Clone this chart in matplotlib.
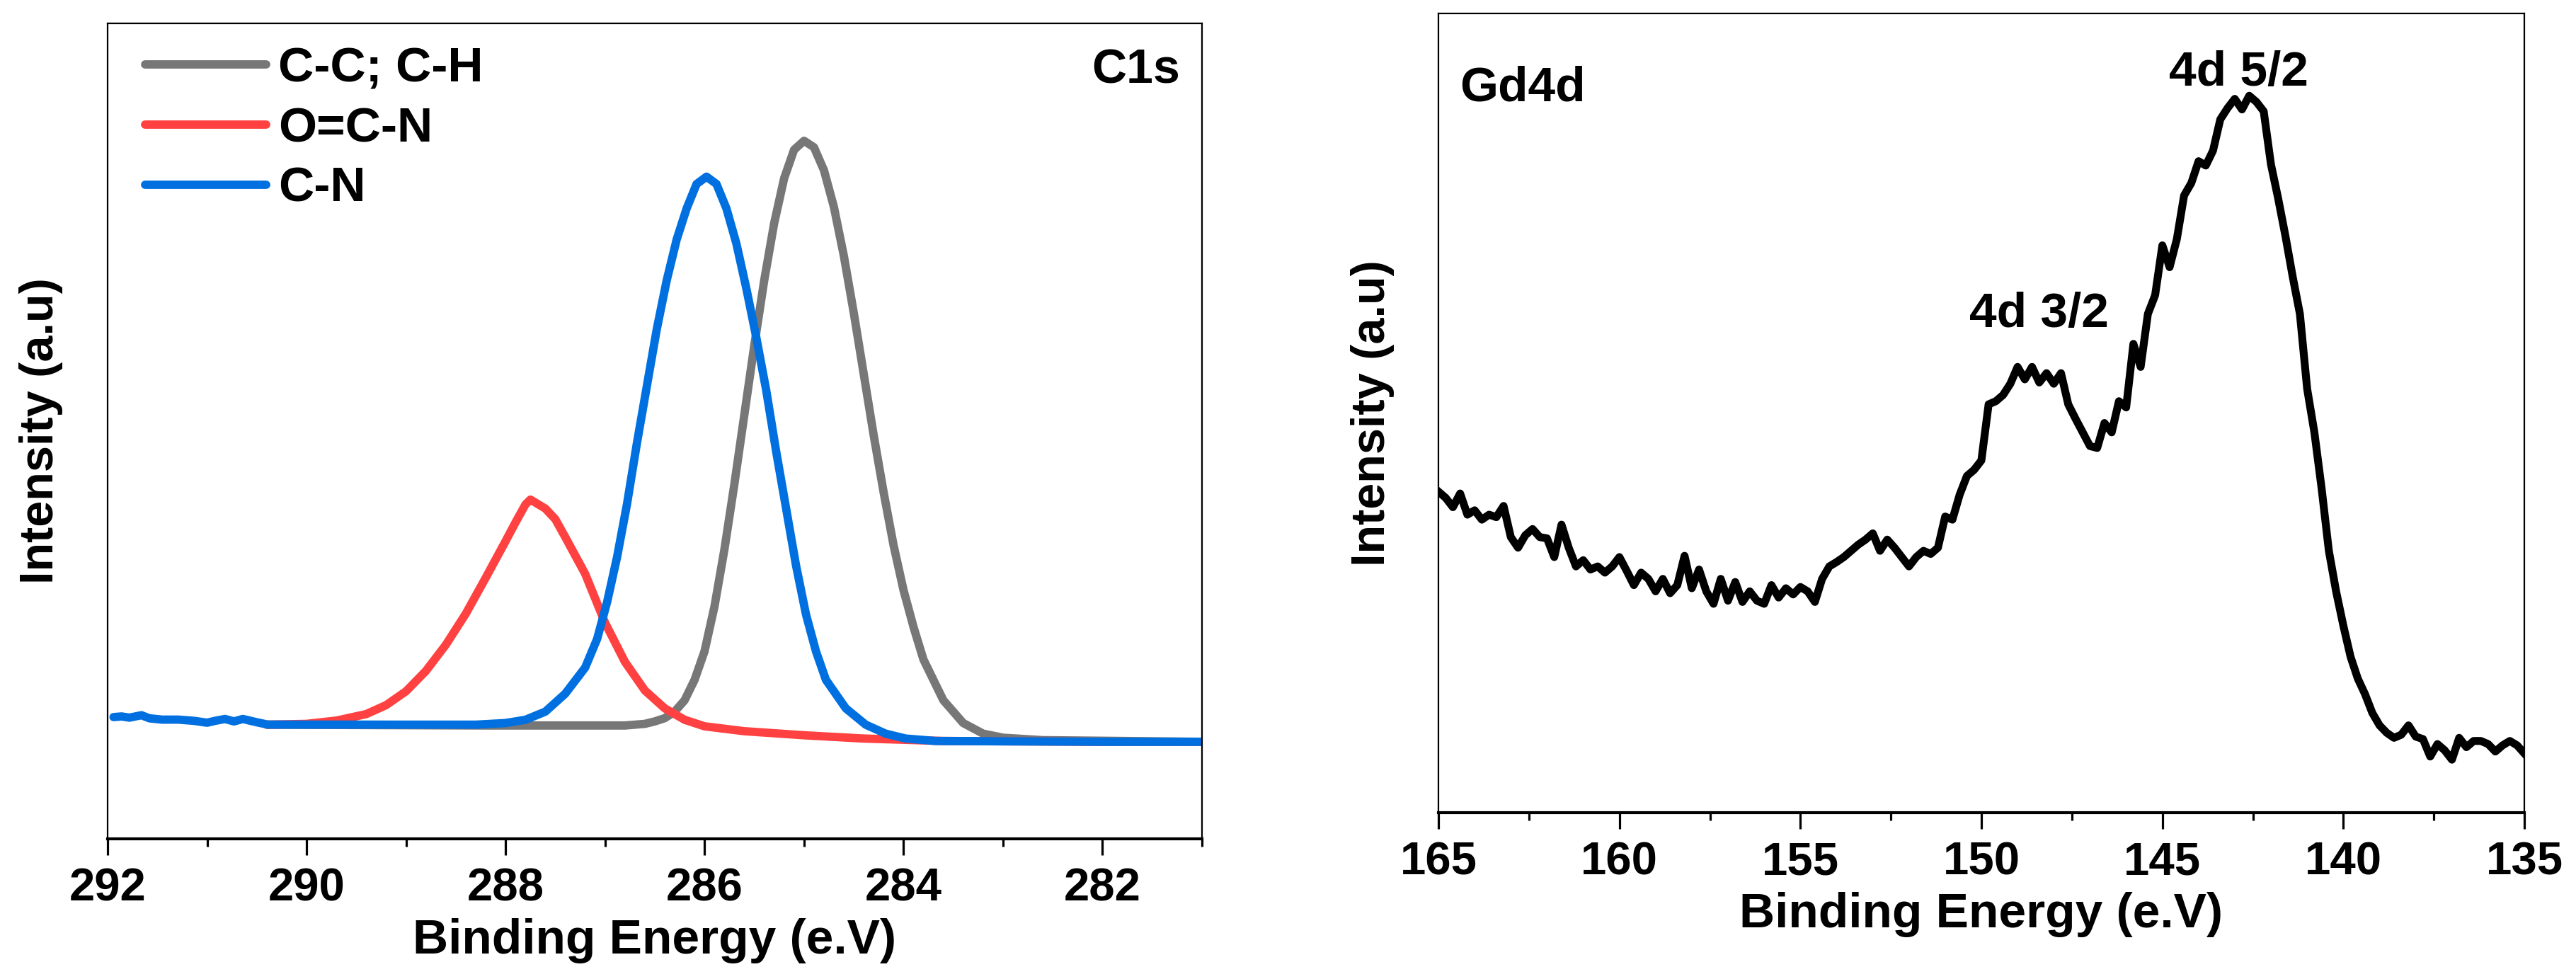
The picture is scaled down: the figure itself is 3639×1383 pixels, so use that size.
import matplotlib
matplotlib.use("Agg")
import matplotlib.pyplot as plt
from matplotlib.ticker import MultipleLocator

plt.rcParams['font.family'] = ['Liberation Sans', 'DejaVu Sans']
plt.rcParams['font.weight'] = 'bold'

# ---- C1s panel (binding energy in eV, intensity in a.u.) ----
cc_ev = [290.4, 288.2, 287.4, 287.2, 286.8, 286.6, 286.5, 286.4, 286.3, 286.2,
         286.1, 286.0, 285.9, 285.8, 285.7, 285.6, 285.5, 285.4, 285.3, 285.2,
         285.1, 285.0, 284.9, 284.8, 284.7, 284.6, 284.5, 284.4, 284.3, 284.2,
         284.1, 284.0, 283.9, 283.8, 283.6, 283.4, 283.2, 283.0, 282.6, 281.0]
cc_int = [14.0, 13.9, 13.9, 13.9, 13.9, 14.1, 14.4, 14.8, 15.6, 17.0,
          19.5, 23.0, 28.5, 35.5, 43.5, 52.0, 60.5, 68.5, 75.5, 81.0,
          84.5, 85.6, 84.8, 82.0, 77.5, 71.5, 64.5, 57.0, 49.5, 42.5,
          36.0, 30.5, 26.0, 22.0, 17.0, 14.2, 12.9, 12.4, 12.1, 11.9]

ocn_ev = [290.4, 290.0, 289.7, 289.4, 289.2, 289.0, 288.8, 288.6, 288.4, 288.2,
          288.0, 287.9, 287.8, 287.75, 287.6, 287.5, 287.4, 287.2, 287.0, 286.8,
          286.6, 286.4, 286.2, 286.0, 285.6, 285.0, 284.4, 283.6, 282.0, 281.0]
ocn_int = [14.0, 14.1, 14.5, 15.3, 16.4, 18.1, 20.6, 23.8, 27.6, 32.0,
           36.5, 38.8, 41.0, 41.6, 40.5, 39.2, 37.0, 32.5, 26.5, 21.7,
           18.2, 16.0, 14.6, 13.8, 13.2, 12.7, 12.3, 12.0, 11.9, 11.9]

cn_ev = [291.94, 291.86, 291.78, 291.66, 291.58, 291.45, 291.29, 291.13, 291.00, 290.92,
         290.82, 290.73, 290.64, 290.51, 290.39, 289.0, 288.3, 288.0, 287.8, 287.6,
         287.4, 287.2, 287.08, 286.98, 286.88, 286.78, 286.68, 286.58, 286.48, 286.38,
         286.28, 286.18, 286.08, 285.98, 285.88, 285.78, 285.68, 285.58, 285.48, 285.38,
         285.28, 285.18, 285.08, 284.98, 284.88, 284.78, 284.58, 284.38, 284.18, 283.98,
         283.68, 282.0, 281.0]
cn_int = [14.93, 15.01, 14.86, 15.16, 14.78, 14.62, 14.62, 14.47, 14.24, 14.47,
          14.70, 14.40, 14.70, 14.32, 14.01, 14.0, 14.0, 14.2, 14.6, 15.6,
          17.8, 21.0, 24.5, 29.0, 34.5, 41.0, 48.5, 55.5, 62.5, 68.5,
          73.5, 77.3, 80.3, 81.2, 80.3, 77.3, 73.0, 67.5, 61.5, 55.0,
          47.5, 40.5, 33.5, 27.5, 23.0, 19.5, 16.0, 14.0, 12.9, 12.3,
          12.0, 11.9, 11.9]

c1s_labels = ['C-C; C-H', 'O=C-N', 'C-N']
c1s_colors = ['#777777', '#FF4141', '#0070E0']

# ---- Gd4d panel ----
gd_ev = [165.0 - 0.2 * i for i in range(151)]
gd_int = [51.5, 50.5, 49.0, 51.2, 47.8, 48.5, 47.0, 47.8, 47.4, 49.2,
          44.2, 42.5, 44.5, 45.5, 44.2, 44.0, 41.0, 46.2, 42.5, 39.5,
          40.5, 39.0, 39.5, 38.5, 39.5, 41.0, 38.8, 36.5, 38.5, 37.5,
          35.5, 37.5, 35.2, 36.5, 41.2, 36.0, 39.0, 35.5, 33.5, 37.5,
          34.0, 37.0, 33.8, 35.5, 34.0, 33.5, 36.5, 34.5, 36.0, 35.0,
          36.2, 35.5, 33.8, 37.5, 39.5, 40.2, 41.0, 42.0, 43.0, 43.8,
          44.8, 42.0, 43.8, 42.5, 41.0, 39.5, 41.0, 42.0, 41.5, 42.5,
          47.5, 47.0, 51.0, 54.0, 55.0, 56.5, 65.5, 66.0, 67.0, 68.8,
          71.5, 69.5, 71.5, 69.0, 70.5, 68.8, 70.5, 65.5, 63.2, 61.0,
          58.8, 58.5, 62.5, 61.0, 66.0, 65.0, 75.2, 71.5, 80.0, 83.0,
          91.0, 87.5, 92.0, 99.0, 101.0, 104.5, 103.8, 106.2, 111.2, 113.0,
          114.5, 112.8, 115.0, 114.0, 112.5, 104.0, 98.5, 92.5, 86.0, 80.0,
          68.0, 61.0, 52.0, 42.0, 35.5, 30.0, 25.0, 21.5, 19.0, 16.0,
          14.0, 12.8, 12.0, 12.5, 14.0, 12.2, 11.8, 9.0, 11.0, 10.0,
          8.5, 12.0, 10.5, 11.5, 11.5, 11.0, 9.8, 10.8, 11.5, 10.8,
          9.5]

peak_labels = ['4d 3/2', '4d 5/2']
peak_ev = [148.4, 142.9]
peak_int = [77.9, 116.6]

W, H = 3639, 1383
fig = plt.figure(figsize=(W / 100, H / 100), dpi=100, facecolor='white')

ax1 = fig.add_axes([152 / W, 1 - 1185 / H, 1546 / W, 1152 / H])
ax2 = fig.add_axes([2032 / W, 1 - 1148 / H, 1534 / W, 1129 / H])

for ax in (ax1, ax2):
    for side in ('top', 'right', 'left'):
        ax.spines[side].set_linewidth(1.6)
    ax.spines['bottom'].set_linewidth(3.0)
    ax.tick_params(axis='x', which='major', direction='out', length=16.5, width=2.3,
                   labelsize=47, pad=13)
    ax.tick_params(axis='x', which='minor', direction='out', length=8, width=2.3)
    ax.tick_params(axis='y', left=False, labelleft=False)
    ax.set_xlabel('Binding Energy (e.V)', fontsize=50, fontweight='bold', labelpad=8)
    ax.set_ylabel('Intensity (a.u)', fontsize=48, fontweight='bold', labelpad=45)

# left panel
for xs, ys, lab, col in zip([cc_ev, ocn_ev, cn_ev], [cc_int, ocn_int, cn_int],
                            c1s_labels, c1s_colors):
    ax1.plot(xs, ys, color=col, lw=8.5, label=lab, solid_capstyle='round',
             solid_joinstyle='round')
ax1.set_xlim(292, 281)
ax1.set_ylim(0, 100)
ax1.xaxis.set_major_locator(MultipleLocator(2))
ax1.xaxis.set_minor_locator(MultipleLocator(1))
ax1.legend(loc='upper left', bbox_to_anchor=(0.0343, 0.972), borderaxespad=0,
           borderpad=0, frameon=False, fontsize=50, handlelength=2.46,
           handletextpad=0.25, labelspacing=0.3)
ax1.text(0.980, 0.927, 'C1s', transform=ax1.transAxes, ha='right', va='baseline',
         fontsize=49, fontweight='bold')

# right panel
ax2.plot(gd_ev, gd_int, color='black', lw=8, solid_joinstyle='round')
ax2.set_xlim(165, 135)
ax2.set_ylim(0, 128.2)
ax2.xaxis.set_major_locator(MultipleLocator(5))
ax2.xaxis.set_minor_locator(MultipleLocator(2.5))
for lab, x, y in zip(peak_labels, peak_ev, peak_int):
    ax2.text(x, y, lab, ha='center', va='baseline', fontsize=50, fontweight='bold')
ax2.text(0.0196, 0.891, 'Gd4d', transform=ax2.transAxes, ha='left', va='baseline',
         fontsize=50, fontweight='bold')

fig.savefig('out.png', dpi=100, facecolor='white')
